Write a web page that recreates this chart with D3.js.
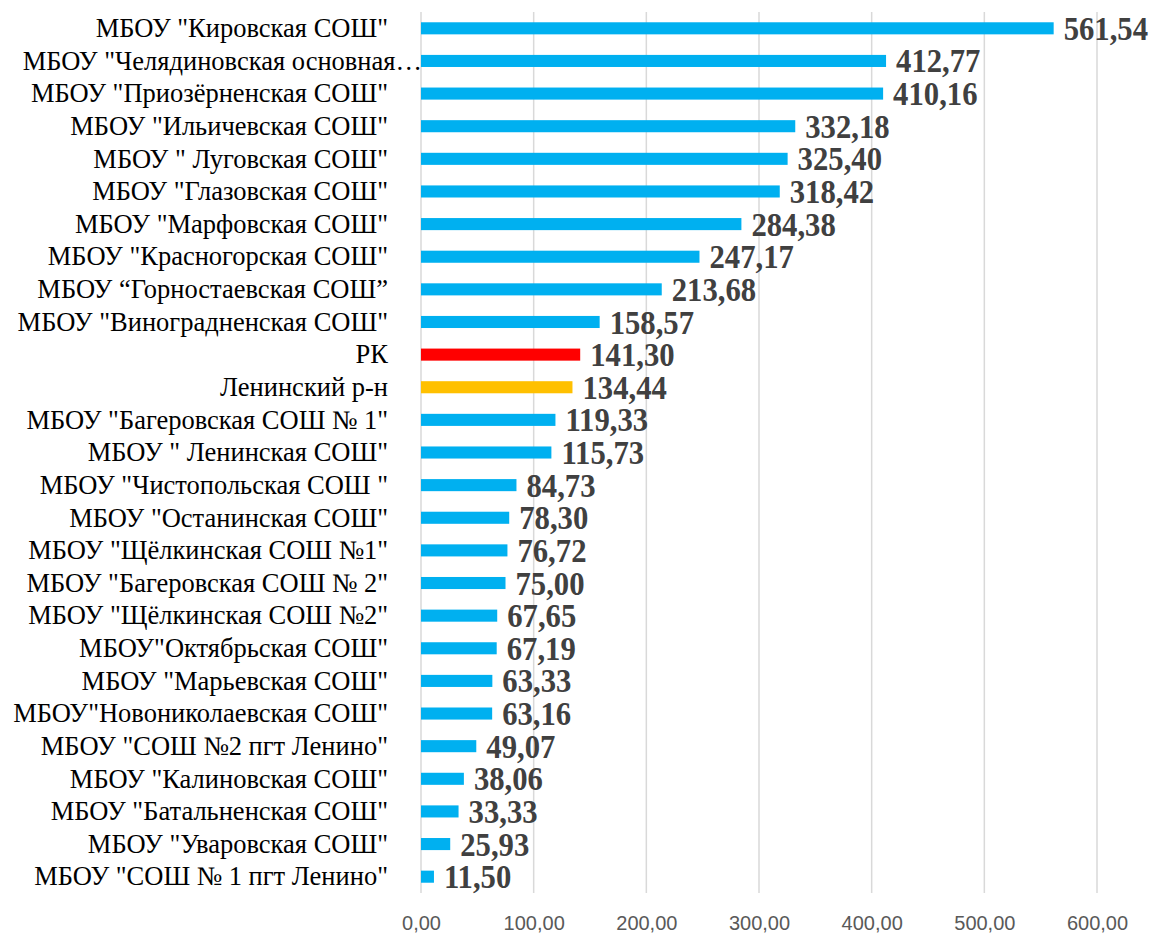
<!DOCTYPE html>
<html>
<head>
<meta charset="utf-8">
<script src="https://cdn.jsdelivr.net/npm/d3@7"></script>
<style>
  body { margin: 0; background: #fff; }
</style>
</head>
<body>
<svg id="chart"></svg>
<script>
// data
const schools = [
    'МБОУ "Кировская СОШ"',
    'МБОУ "Челядиновская основная…',
    'МБОУ "Приозёрненская СОШ"',
    'МБОУ "Ильичевская СОШ"',
    'МБОУ " Луговская СОШ"',
    'МБОУ "Глазовская СОШ"',
    'МБОУ "Марфовская СОШ"',
    'МБОУ "Красногорская СОШ"',
    'МБОУ “Горностаевская СОШ”',
    'МБОУ "Виноградненская СОШ"',
    'РК',
    'Ленинский р-н',
    'МБОУ "Багеровская СОШ № 1"',
    'МБОУ " Ленинская СОШ"',
    'МБОУ "Чистопольская СОШ "',
    'МБОУ "Останинская СОШ"',
    'МБОУ "Щёлкинская СОШ №1"',
    'МБОУ "Багеровская СОШ № 2"',
    'МБОУ "Щёлкинская СОШ №2"',
    'МБОУ"Октябрьская СОШ"',
    'МБОУ "Марьевская СОШ"',
    'МБОУ"Новониколаевская СОШ"',
    'МБОУ "СОШ №2 пгт Ленино"',
    'МБОУ "Калиновская СОШ"',
    'МБОУ "Батальненская СОШ"',
    'МБОУ "Уваровская СОШ"',
    'МБОУ "СОШ № 1 пгт Ленино"'
];
const values = [561.54, 412.77, 410.16, 332.18, 325.40, 318.42, 284.38, 247.17, 213.68, 158.57,
    141.30, 134.44, 119.33, 115.73, 84.73, 78.30, 76.72, 75.00, 67.65, 67.19,
    63.33, 63.16, 49.07, 38.06, 33.33, 25.93, 11.50];
const xTicks = [0, 100, 200, 300, 400, 500, 600];
const highlight = {'РК': '#FF0000', 'Ленинский р-н': '#FFC000'};

const data = schools.map((s, i) => ({name: s, value: values[i]}));

// layout
const width = 1154, height = 934;
const margin = {top: 12, right: 57, bottom: 41, left: 421};
const innerW = width - margin.left - margin.right;
const innerH = height - margin.top - margin.bottom;

const svg = d3.select('#chart')
    .attr('width', width)
    .attr('height', height)
    .append('g')
    .attr('transform', 'translate(' + margin.left + ',' + margin.top + ')');

const fmt = v => v.toFixed(2).replace('.', ',');

const x = d3.scaleLinear().domain([0, 600]).range([0, innerW]);
const y = d3.scaleBand()
    .domain(schools)
    .range([0, innerH])
    .paddingInner(0.63)
    .paddingOuter(0.315);

// gridlines
svg.append('g')
    .selectAll('line')
    .data(xTicks)
    .enter()
    .append('line')
    .attr('x1', d => x(d)).attr('x2', d => x(d))
    .attr('y1', 0).attr('y2', innerH)
    .attr('stroke', '#D9D9D9')
    .attr('stroke-width', 1.5);

// x axis
const xAxis = svg.append('g')
    .attr('transform', 'translate(0,' + innerH + ')')
    .call(d3.axisBottom(x).tickValues(xTicks).tickFormat(fmt).tickSize(0).tickPadding(23));
xAxis.select('.domain').remove();
xAxis.selectAll('text')
    .attr('fill', '#595959')
    .style('font-family', '"Liberation Sans", Arial, sans-serif')
    .style('font-size', '20px');

// y labels
svg.append('g')
    .selectAll('text')
    .data(data)
    .enter()
    .append('text')
    .attr('x', d => d.name.endsWith('…') ? 1 : -33)
    .attr('y', d => y(d.name) + y.bandwidth() / 2)
    .attr('dy', '0.33em')
    .attr('text-anchor', 'end')
    .attr('fill', '#000')
    .style('font-family', '"Liberation Serif", "Times New Roman", serif')
    .style('font-size', '26.5px')
    .text(d => d.name);

// bars
svg.selectAll('rect.bar')
    .data(data)
    .enter()
    .append('rect')
    .attr('class', 'bar')
    .attr('x', x(0))
    .attr('y', d => y(d.name))
    .attr('width', d => x(d.value) - x(0))
    .attr('height', y.bandwidth())
    .attr('fill', d => highlight[d.name] || '#00B0F0');

// value labels (bold, slightly condensed like the original)
svg.selectAll('text.val')
    .data(data)
    .enter()
    .append('text')
    .attr('class', 'val')
    .attr('transform', d => 'translate(' + (x(d.value) + 10) + ',' + (y(d.name) + y.bandwidth() / 2) + ') scale(0.93,1)')
    .attr('dy', '0.35em')
    .attr('fill', '#404040')
    .style('font-family', '"Liberation Serif", "Times New Roman", serif')
    .style('font-weight', 'bold')
    .style('font-size', '33px')
    .text(d => fmt(d.value));
</script>
</body>
</html>
